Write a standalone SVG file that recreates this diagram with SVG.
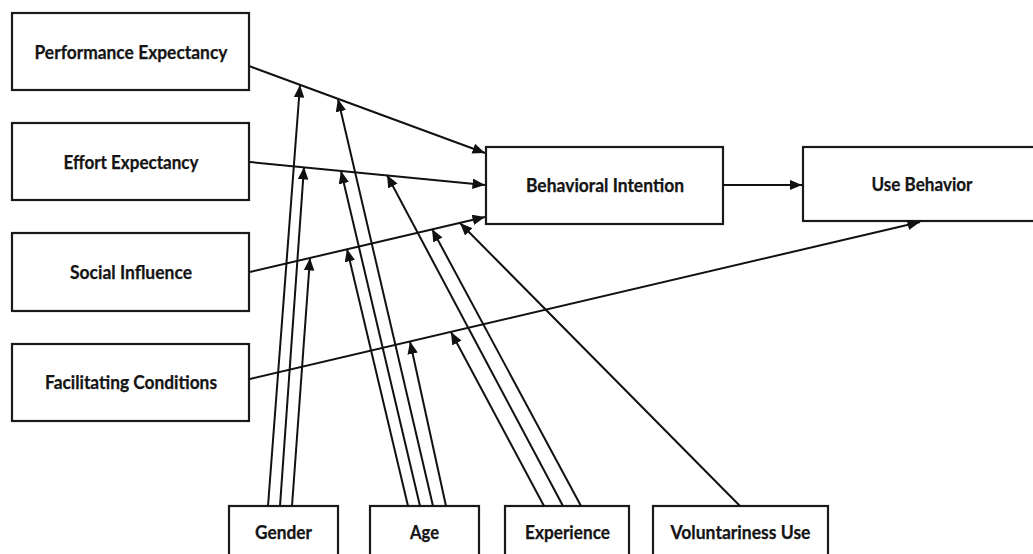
<svg xmlns="http://www.w3.org/2000/svg" width="1033" height="554" viewBox="0 0 1033 554">
  <style>
    .box { fill: #ffffff; stroke: #1a1a1a; stroke-width: 2.2; }
    .lbl { font-family: Lato, "Open Sans", "Liberation Sans", sans-serif; font-weight: 700; font-size: 18.5px; fill: #141414; text-anchor: middle; stroke: #141414; stroke-width: 0.25; }
    .link { fill: none; stroke: #111111; stroke-width: 2; marker-end: url(#head); }
  </style>
  <defs>
    <marker id="head" markerUnits="userSpaceOnUse" markerWidth="14" markerHeight="12" refX="12.5" refY="5.25" orient="auto">
      <path d="M0,0 L12.5,5.25 L0,10.5 z" fill="#111111"/>
    </marker>
  </defs>
  <rect width="1033" height="554" fill="#ffffff"/>

  <!-- constructs -->
  <g id="performance-expectancy">
    <rect class="box" x="12" y="13" width="237" height="77"/>
    <text class="lbl" x="131" y="59" textLength="193" lengthAdjust="spacingAndGlyphs">Performance Expectancy</text>
  </g>
  <g id="effort-expectancy">
    <rect class="box" x="12" y="123" width="237" height="77"/>
    <text class="lbl" x="131" y="169" textLength="135" lengthAdjust="spacingAndGlyphs">Effort Expectancy</text>
  </g>
  <g id="social-influence">
    <rect class="box" x="12" y="233" width="237" height="78"/>
    <text class="lbl" x="131" y="279" textLength="122" lengthAdjust="spacingAndGlyphs">Social Influence</text>
  </g>
  <g id="facilitating-conditions">
    <rect class="box" x="12" y="344" width="237" height="77"/>
    <text class="lbl" x="131" y="389" textLength="172" lengthAdjust="spacingAndGlyphs">Facilitating Conditions</text>
  </g>
  <g id="behavioral-intention">
    <rect class="box" x="486" y="147" width="237" height="77"/>
    <text class="lbl" x="605" y="192" textLength="158" lengthAdjust="spacingAndGlyphs">Behavioral Intention</text>
  </g>
  <g id="use-behavior">
    <rect class="box" x="803" y="147" width="238" height="74"/>
    <text class="lbl" x="922" y="191" textLength="101" lengthAdjust="spacingAndGlyphs">Use Behavior</text>
  </g>

  <!-- moderators -->
  <g id="gender">
    <rect class="box" x="229" y="506" width="109" height="70"/>
    <text class="lbl" x="283.5" y="539" textLength="57" lengthAdjust="spacingAndGlyphs">Gender</text>
  </g>
  <g id="age">
    <rect class="box" x="370" y="506" width="109" height="70"/>
    <text class="lbl" x="424.5" y="539" textLength="29" lengthAdjust="spacingAndGlyphs">Age</text>
  </g>
  <g id="experience">
    <rect class="box" x="505" y="506" width="124" height="70"/>
    <text class="lbl" x="567.5" y="539" textLength="85" lengthAdjust="spacingAndGlyphs">Experience</text>
  </g>
  <g id="voluntariness-use">
    <rect class="box" x="653" y="506" width="175" height="70"/>
    <text class="lbl" x="740.5" y="539" textLength="140" lengthAdjust="spacingAndGlyphs">Voluntariness Use</text>
  </g>

  <!-- connectors -->
  <g id="connectors">
    <!-- direct paths -->
    <path class="link" d="M249,66 L485,153"/>
    <path class="link" d="M250,162 L485,185"/>
    <path class="link" d="M250,272 L485,217"/>
    <path class="link" d="M250,379 L920,222"/>
    <path class="link" d="M723,185 L802,185"/>
    <!-- gender -->
    <path class="link" d="M268,506 L300,85"/>
    <path class="link" d="M280,506 L304,167"/>
    <path class="link" d="M292,506 L310,258"/>
    <!-- age -->
    <path class="link" d="M408,506 L347,249"/>
    <path class="link" d="M420,506 L341,171"/>
    <path class="link" d="M433,506 L338,99"/>
    <path class="link" d="M446,506 L410,341.5"/>
    <!-- experience -->
    <path class="link" d="M544,506 L451,332"/>
    <path class="link" d="M563,506 L387,175"/>
    <path class="link" d="M581,506 L432,229"/>
    <!-- voluntariness of use -->
    <path class="link" d="M740,506 L460,223"/>
  </g>
</svg>
